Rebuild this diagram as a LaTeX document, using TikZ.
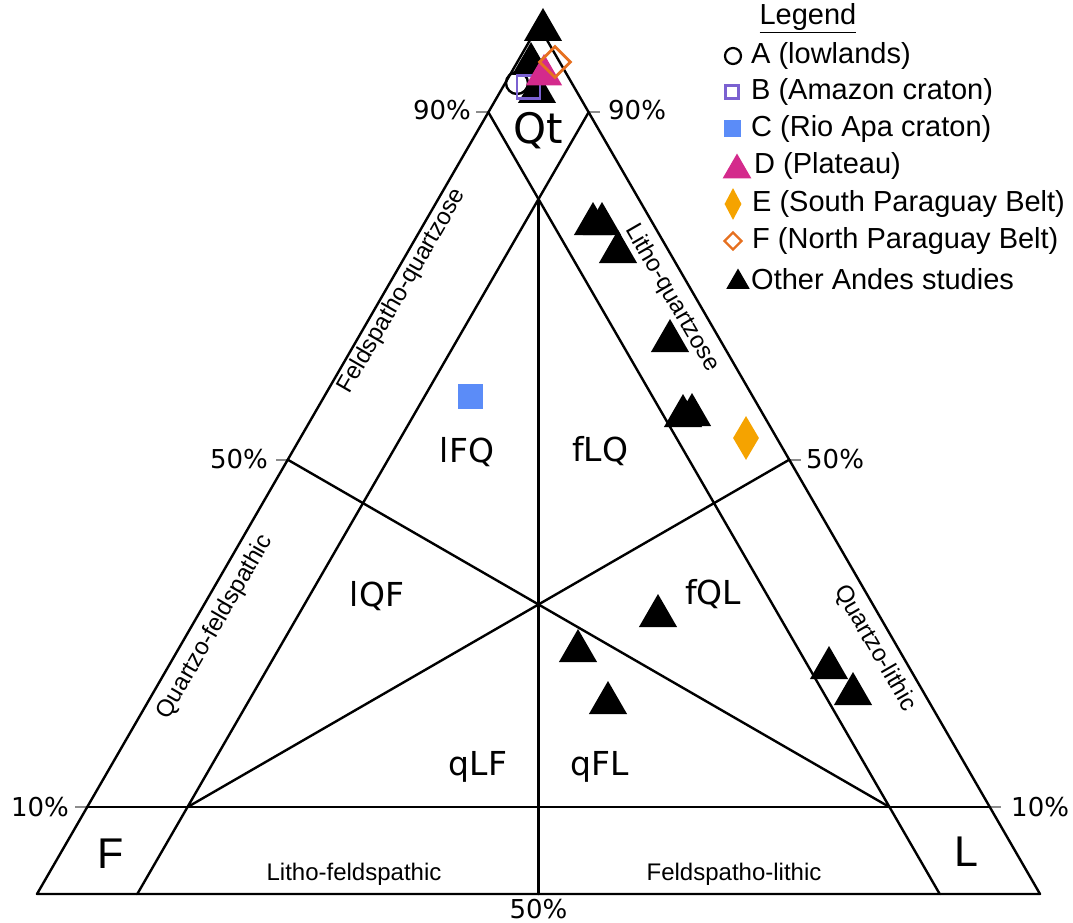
\documentclass[tikz,border=0pt]{standalone}
\usepackage{fontspec}
\setmainfont{Liberation Sans}
\newfontfamily\dejavu{DejaVu Sans}
\usetikzlibrary{shapes.geometric}
\definecolor{cB}{HTML}{7B61D1}
\definecolor{cC}{HTML}{5B8CF8}
\definecolor{cD}{HTML}{D42A8C}
\definecolor{cE}{HTML}{F5A300}
\definecolor{cF}{HTML}{E67020}
\definecolor{tickgray}{HTML}{8C8C8C}
\begin{document}
\begin{tikzpicture}[x=1pt,y=-1pt,
  edge/.style={line width=2.4pt, black, line cap=round},
  tickline/.style={line width=1.8pt, tickgray},
  pct/.style={font=\dejavu\fontsize{26}{28}\selectfont, inner sep=0pt},
  reg/.style={font=\dejavu\fontsize{33}{35}\selectfont, inner sep=0pt, anchor=base},
  corner/.style={font=\fontsize{43}{45}\selectfont, inner sep=0pt, anchor=base},
  band/.style={font=\fontsize{24}{26}\selectfont, inner sep=0pt},
  leg/.style={font=\fontsize{29}{31}\selectfont, inner sep=0pt, anchor=west},
  blk/.style={regular polygon, regular polygon sides=3, fill=black, inner sep=0pt, minimum size=44pt},
  pinktri/.style={regular polygon, regular polygon sides=3, fill=cD, inner sep=0pt, minimum size=44pt},
  opencirc/.style={circle, draw=black, line width=2.4pt, inner sep=0pt, minimum size=22pt},
  opensq/.style={rectangle, draw=cB, line width=2.8pt, inner sep=0pt, minimum size=23pt},
  fullsq/.style={rectangle, fill=cC, inner sep=0pt, minimum size=25pt},
  fulldia/.style={diamond, fill=cE, inner sep=0pt, minimum width=26pt, minimum height=44pt},
  opendia/.style={diamond, draw=cF, line width=2.8pt, inner sep=0pt, minimum width=32pt, minimum height=32pt}
]
\useasboundingbox (0,0) rectangle (1073,923);

% key points
\coordinate (Fc) at (37,894);
\coordinate (Lc) at (1040,894);
\coordinate (Qc) at (538.5,25.4);
\coordinate (l90) at (488.4,112.3);
\coordinate (r90) at (588.6,112.3);
\coordinate (l50) at (287.75,459.7);
\coordinate (r50) at (789.25,459.7);
\coordinate (l10) at (87.15,807.1);
\coordinate (r10) at (989.85,807.1);
\coordinate (b1) at (137.3,894);
\coordinate (b2) at (939.7,894);
\coordinate (bm) at (538.5,894);
\coordinate (cx) at (538.5,199.1);
\coordinate (d1) at (889.5,807.1);
\coordinate (d2) at (187.5,807.1);
\coordinate (tl90) at (476,112.3);
\coordinate (tr90) at (600,112.3);
\coordinate (tl50) at (276,459.7);
\coordinate (tr50) at (801,459.7);
\coordinate (tl10) at (75,807.1);
\coordinate (tr10) at (1001,807.1);

% ticks
\draw[tickline] (l90) -- (tl90);
\draw[tickline] (r90) -- (tr90);
\draw[tickline] (l50) -- (tl50);
\draw[tickline] (r50) -- (tr50);
\draw[tickline] (l10) -- (tl10);
\draw[tickline] (r10) -- (tr10);

% triangle and fields
\draw[edge, line join=round] (Fc) -- (Lc) -- (Qc) -- cycle;
\draw[edge] (l90) -- (b2);
\draw[edge] (r90) -- (b1);
\draw[edge] (l10) -- (r10);
\draw[edge] (cx) -- (bm);
\draw[edge] (l50) -- (d1);
\draw[edge] (r50) -- (d2);

% percentage labels
\node[pct, anchor=east] (p90l) at (471,110) {90\%};
\node[pct, anchor=east] (p50l) at (268,459) {50\%};
\node[pct, anchor=east] (p10l) at (69,807) {10\%};
\node[pct, anchor=west] (p90r) at (608,110) {90\%};
\node[pct, anchor=west] (p50r) at (806,459) {50\%};
\node[pct, anchor=west] (p10r) at (1011,807) {10\%};
\node[pct] (p50b) at (538.5,909) {50\%};

% field labels
\node[reg, font=\dejavu\fontsize{42}{44}\selectfont] (qt) at (538.5,143) {Qt};
\node[reg] (lfq) at (467,462) {lFQ};
\node[reg] (flq) at (600,461) {fLQ};
\node[reg] (lqf) at (377,606) {lQF};
\node[reg] (fql) at (713,604) {fQL};
\node[reg] (qlf) at (478,775) {qLF};
\node[reg] (qfl) at (600,775) {qFL};
\node[corner] (cf) at (111,868) {F};
\node[corner] (cl) at (966,866) {L};

% band labels
\node[band, rotate=60] (fq) at (402,291) {Feldspatho-quartzose};
\node[band, rotate=60] (qf) at (215,627) {Quartzo-feldspathic};
\node[band, rotate=-60] (lq) at (672,298) {Litho-quartzose};
\node[band, rotate=-60] (ql) at (875,648) {Quartzo-lithic};
\node[band] (lf) at (354,874) {Litho-feldspathic};
\node[band] (fl) at (734,874) {Feldspatho-lithic};

% data: other Andes studies (black triangles)
\node[blk] (a1) at (543,30) {};
\node[blk] (a2) at (531,64) {};
\node[blk] (a3) at (537,92) {};
\node[blk] (a4) at (593,224) {};
\node[blk] (a5) at (602,224) {};
\node[blk] (a6) at (618,252) {};
\node[blk] (a7) at (670,341) {};
\node[blk] (a8) at (683,416) {};
\node[blk] (a9) at (692,415) {};
\node[blk] (a10) at (658,616) {};
\node[blk] (a11) at (578,651) {};
\node[blk] (a12) at (608,703) {};
\node[blk] (a13) at (829,668) {};
\node[blk] (a14) at (853,694) {};

% data: groups A-F
\node[opencirc] (ma) at (517,83) {};
\node[opensq] (mb) at (528.5,87) {};
\node[pinktri, minimum size=42pt] (md) at (544,75) {};
\node[opendia] (mf) at (555,62) {};
\node[fullsq] (mc) at (470,396) {};
\node[fulldia] (me) at (746,438) {};

% legend
\node[leg, anchor=center] (lt) at (808,18) {\underline{Legend}};
\node[opencirc, minimum size=16pt, line width=2.2pt] (la) at (733,56) {};
\node[leg] (lta) at (751,56) {A (lowlands)};
\node[opensq, minimum size=13pt, line width=2.2pt] (lb) at (732,92) {};
\node[leg] (ltb) at (751,92) {B (Amazon craton)};
\node[fullsq, minimum size=17pt] (lc) at (732,129) {};
\node[leg] (ltc) at (751,129) {C (Rio Apa craton)};
\node[pinktri, minimum size=33pt] (ld) at (737,170) {};
\node[leg] (ltd) at (754,166) {D (Plateau)};
\node[fulldia, minimum width=17pt, minimum height=32pt] (le) at (733,204) {};
\node[leg] (lte) at (752,204) {E (South Paraguay Belt)};
\node[opendia, minimum width=18pt, minimum height=18pt, line width=2.4pt] (lf2) at (733,241) {};
\node[leg] (ltf) at (752,241) {F (North Paraguay Belt)};
\node[blk, minimum size=27pt] (lo) at (738,282) {};
\node[leg] (lto) at (751,279) {Other Andes studies};
\end{tikzpicture}
\end{document}
